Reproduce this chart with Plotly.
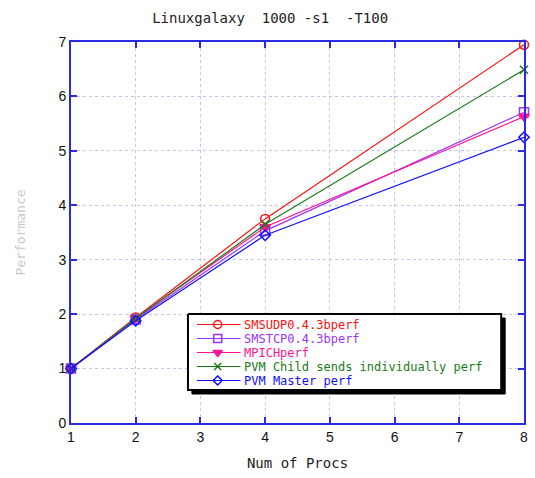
import plotly.graph_objects as go

procs = [1, 2, 4, 8]
smsudp = [1.0, 1.94, 3.75, 6.95]
smstcp = [1.0, 1.90, 3.53, 5.71]
mpich = [1.0, 1.93, 3.60, 5.63]
pvm_child = [1.0, 1.92, 3.65, 6.49]
pvm_master = [1.0, 1.88, 3.45, 5.25]

names = ["SMSUDP0.4.3bperf", "SMSTCP0.4.3bperf", "MPICHperf",
         "PVM Child sends individually perf", "PVM Master perf"]
values = [smsudp, smstcp, mpich, pvm_child, pvm_master]
colors = ["#ff1010", "#9933ff", "#ff1493", "#1a7a1a", "#1010ff"]
symbols = ["circle-open", "square-open", "triangle-down", "x-thin-open", "diamond-open"]
sizes = [9, 9, 9, 8, 8]

BLUE = "#2a2ae0"
fig = go.Figure()

for name, vals, color, sym, size in zip(names, values, colors, symbols, sizes):
    fig.add_trace(go.Scatter(
        x=procs, y=vals, name=name, mode="lines+markers",
        line=dict(color=color, width=1.2),
        marker=dict(symbol=sym, size=size, color=color,
                    line=dict(color=color, width=1.5)),
        cliponaxis=False, showlegend=False,
    ))

# Key box drawn on an overlay axis measured in page pixels (y downward)
LX0, LX1, LY0, LY1 = 189, 505, 314, 390
SH = 4
leg = dict(xaxis="x2", yaxis="y2", showlegend=False, hoverinfo="skip")
fig.add_trace(go.Scatter(
    x=[LX0 + SH, LX1 + SH, LX1 + SH, LX0 + SH, LX0 + SH],
    y=[LY0 + SH, LY0 + SH, LY1 + SH, LY1 + SH, LY0 + SH],
    fill="toself", fillcolor="black", mode="lines",
    line=dict(color="black", width=1), **leg))
fig.add_trace(go.Scatter(
    x=[LX0, LX1, LX1, LX0, LX0], y=[LY0, LY0, LY1, LY1, LY0],
    fill="toself", fillcolor="white", mode="lines",
    line=dict(color="black", width=2), **leg))

row_y0, row_dy = 324.5, 14
annotations = []
for i, (name, color, sym, size) in enumerate(zip(names, colors, symbols, sizes)):
    ry = row_y0 + i * row_dy
    fig.add_trace(go.Scatter(
        x=[198, 242], y=[ry, ry], mode="lines",
        line=dict(color=color, width=1.2), **leg))
    fig.add_trace(go.Scatter(
        x=[219], y=[ry], mode="markers",
        marker=dict(symbol=sym, size=size - 1, color=color,
                    line=dict(color=color, width=1.5)), **leg))
    annotations.append(dict(
        xref="x2", yref="y2", x=245, y=ry, text=name, showarrow=False,
        xanchor="left", yanchor="middle", borderpad=0,
        font=dict(family="DejaVu Sans Mono", size=12, color=color)))

axis_common = dict(
    showline=True, linecolor=BLUE, linewidth=2, mirror="ticks",
    ticks="inside", ticklen=6, tickcolor=BLUE, tickwidth=2,
    showgrid=True, gridcolor="#c4c4f4", griddash="dot", gridwidth=1,
    zeroline=False,
    tickfont=dict(family="Liberation Sans, Arial", size=14, color="#111"),
)

fig.update_layout(
    width=535, height=478,
    margin=dict(l=71, r=7, t=42, b=55),
    paper_bgcolor="white", plot_bgcolor="white",
    showlegend=False,
    title=dict(text="Linuxgalaxy  1000 -s1  -T100", x=0.505, xanchor="center",
               y=0.963, yanchor="middle",
               font=dict(family="DejaVu Sans Mono", size=14, color="#222")),
    xaxis=dict(range=[1, 8], dtick=1, **axis_common,
               title=dict(text="Num of Procs", standoff=14,
                          font=dict(family="DejaVu Sans Mono", size=14, color="#222"))),
    yaxis=dict(range=[0, 7], dtick=1, **axis_common,
               title=dict(text="Performance", standoff=30,
                          font=dict(family="DejaVu Sans Mono", size=13, color="#c8c8c8"))),
    xaxis2=dict(overlaying="x", range=[71, 528], visible=False, fixedrange=True),
    yaxis2=dict(overlaying="y", range=[423, 42], visible=False, fixedrange=True),
    annotations=annotations,
)

fig.write_html("out.html")
